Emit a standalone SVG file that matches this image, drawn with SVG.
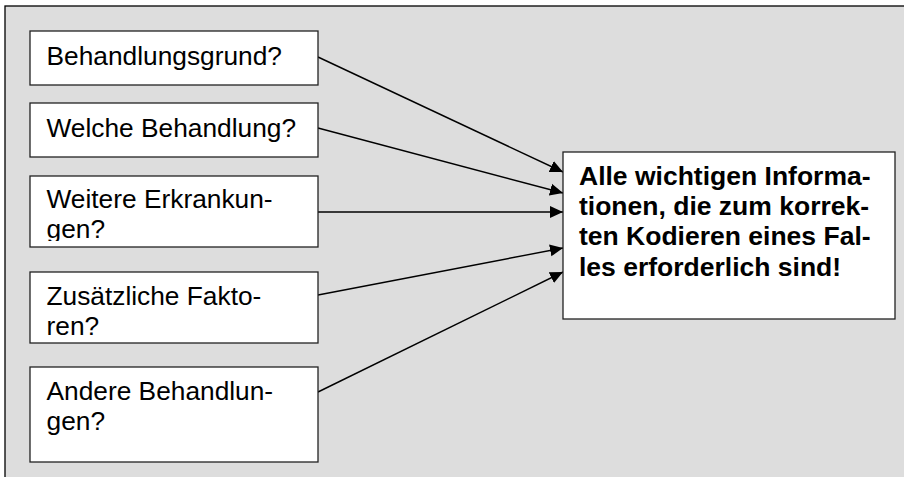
<svg xmlns="http://www.w3.org/2000/svg" width="904" height="477" viewBox="0 0 904 477">
<style>
.frame{fill:#dddddd;stroke:#000;stroke-width:1.3}
.box{fill:#fff;stroke:#222;stroke-width:1.3}
.t{font-family:"Liberation Sans",Arial,sans-serif;font-size:26.3px;fill:#000}
.b{font-weight:bold;font-size:26.5px}
.c{stroke:#000;stroke-width:1.4;fill:none;marker-end:url(#ah)}
</style>
<defs>
<marker id="ah" markerUnits="userSpaceOnUse" markerWidth="14" markerHeight="14" viewBox="0 0 14 14" refX="13" refY="7" orient="auto">
<path d="M0,1 L13,7 L0,13 z" fill="#000"/>
</marker>
<clipPath id="clip3"><rect x="30" y="176" width="288" height="65"/></clipPath>
</defs>
<rect class="frame" x="5" y="6" width="910" height="480"/>
<g id="connectors">
<line class="c" x1="318" y1="57" x2="563" y2="172"/>
<line class="c" x1="318" y1="128" x2="563" y2="193"/>
<line class="c" x1="318" y1="212" x2="563" y2="212"/>
<line class="c" x1="318" y1="295" x2="563" y2="248"/>
<line class="c" x1="318" y1="392" x2="563" y2="272"/>
</g>
<g id="n1"><rect class="box" x="30" y="31" width="288" height="54"/><text class="t" x="46.5" y="64.5">Behandlungsgrund?</text></g>
<g id="n2"><rect class="box" x="30" y="103" width="288" height="54"/><text class="t" x="46.5" y="136.7">Welche Behandlung?</text></g>
<g id="n3"><rect class="box" x="30" y="176" width="288" height="71"/><g clip-path="url(#clip3)"><text class="t" x="46.5" y="208">Weitere Erkrankun-</text><text class="t" x="46.5" y="238">gen?</text></g></g>
<g id="n4"><rect class="box" x="30" y="272" width="288" height="71"/><text class="t" x="46.5" y="304.7">Zusätzliche Fakto-</text><text class="t" x="46.5" y="334.7">ren?</text></g>
<g id="n5"><rect class="box" x="30" y="367" width="288" height="95"/><text class="t" x="46.5" y="399.5">Andere Behandlun-</text><text class="t" x="46.5" y="429.5">gen?</text></g>
<g id="target"><rect class="box" x="563" y="152" width="332" height="167"/>
<text class="t b" x="579" y="185">Alle wichtigen Informa-</text>
<text class="t b" x="579" y="215">tionen, die zum korrek-</text>
<text class="t b" x="579" y="245">ten Kodieren eines Fal-</text>
<text class="t b" x="579" y="275.5">les erforderlich sind!</text></g>
</svg>
